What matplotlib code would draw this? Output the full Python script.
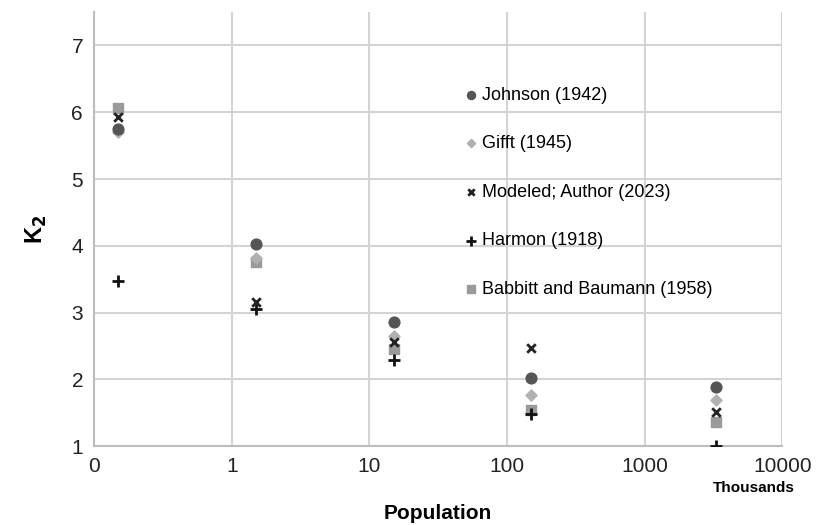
import matplotlib.pyplot as plt
from matplotlib.ticker import FixedLocator, FixedFormatter, NullLocator

plt.rcParams['font.family'] = ['Liberation Sans', 'DejaVu Sans']

# population (thousands) and K2 values per source
pop = [0.15, 1.5, 15, 150, 3300]
johnson = [5.75, 4.03, 2.86, 2.02, 1.89]
gifft = [5.70, 3.82, 2.65, 1.76, 1.69]
modeled = [5.93, 3.16, 2.56, 2.47, 1.51]
harmon = [3.48, 3.05, 2.29, 1.48, 1.01]
babbitt = [6.07, 3.76, 2.45, 1.54, 1.36]

xticks = [0.1, 1, 10, 100, 1000, 10000]
xlabels = ["0", "1", "10", "100", "1000", "10000"]

fig = plt.figure(figsize=(8.26, 5.25), dpi=100)
ax = fig.add_axes([0.114, 0.150, 0.833, 0.827])

ax.scatter(pop, babbitt, marker="s", s=55, color="#9a9a9a", label="Babbitt and Baumann (1958)", zorder=3)
ax.scatter(pop, gifft, marker="D", s=32, color="#b0b0b0", label="Gifft (1945)", zorder=4)
ax.scatter(pop, johnson, marker="o", s=60, color="#555555", label="Johnson (1942)", zorder=4)
ax.scatter(pop, harmon, marker="+", s=75, color="#111111", linewidths=2, label="Harmon (1918)", zorder=5)
ax.scatter(pop, modeled, marker="x", s=38, color="#222222", linewidths=2, label="Modeled; Author (2023)", zorder=5)

ax.set_xscale("log")
ax.set_xlim(0.1, 10000)
ax.set_ylim(1, 7.5)
ax.xaxis.set_major_locator(FixedLocator(xticks))
ax.xaxis.set_major_formatter(FixedFormatter(xlabels))
ax.xaxis.set_minor_locator(NullLocator())
ax.set_yticks([1, 2, 3, 4, 5, 6, 7])

ax.grid(True, color="#d4d4d4", linewidth=1.5)
ax.set_axisbelow(True)
for s in ["top", "right"]:
    ax.spines[s].set_visible(False)
for s in ["left", "bottom"]:
    ax.spines[s].set_color("#bdbdbd")
    ax.spines[s].set_linewidth(1.5)
ax.tick_params(length=0, labelsize=15, colors="#222222", pad=8)

ax.set_xlabel("Population", fontsize=15, fontweight="bold", labelpad=20)
ax.set_ylabel("K$_\\mathbf{2}$", fontsize=17, fontweight="bold", labelpad=16)
fig.text(0.962, 0.062, "Thousands", fontsize=11, fontweight="bold", ha="right")

# legend order as in the picture
h, l = ax.get_legend_handles_labels()
order = ["Johnson (1942)", "Gifft (1945)", "Modeled; Author (2023)", "Harmon (1918)", "Babbitt and Baumann (1958)"]
hh = [h[l.index(o)] for o in order]
leg = ax.legend(hh, order, loc="upper left", bbox_to_anchor=(0.524, 0.845), frameon=False,
                fontsize=13, labelspacing=1.75, handletextpad=0.1, handlelength=1.0,
                markerscale=0.75, borderaxespad=0)

fig.savefig("out.png", dpi=100)
